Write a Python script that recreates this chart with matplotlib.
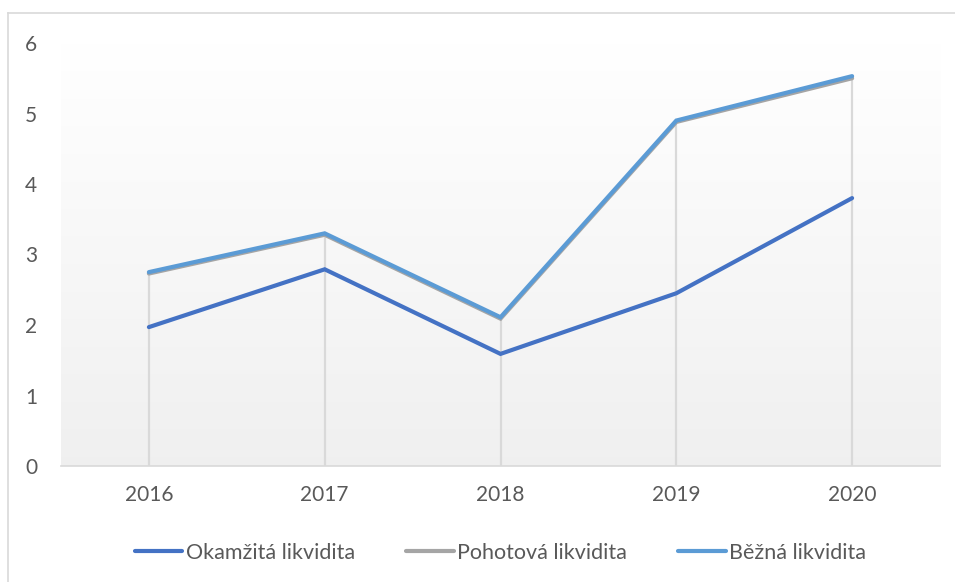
import numpy as np
import matplotlib
matplotlib.use("Agg")
import matplotlib.pyplot as plt
from matplotlib.lines import Line2D

# ---- data ----
years = ["2016", "2017", "2018", "2019", "2020"]
okamzita = [1.97, 2.79, 1.59, 2.45, 3.80]
pohotova = [2.73, 3.28, 2.09, 4.88, 5.50]
bezna = [2.75, 3.30, 2.11, 4.90, 5.53]
series_names = ["Okamžitá likvidita", "Pohotová likvidita", "Běžná likvidita"]
colors = ["#4472C4", "#A5A5A5", "#5B9BD5"]

plt.rcParams["font.family"] = ["Lato", "DejaVu Sans"]
txt = "#595959"
grid_c = "#D9D9D9"

W, H = 955, 582
fig = plt.figure(figsize=(W / 100, H / 100), dpi=100)

# outer chart border (cut off at right/bottom like the reference)
fig.add_artist(Line2D([8 / W, 8 / W], [0, 1 - 13 / H], transform=fig.transFigure,
                      color=grid_c, lw=1.2))
fig.add_artist(Line2D([8 / W, 1], [1 - 13 / H, 1 - 13 / H], transform=fig.transFigure,
                      color=grid_c, lw=1.2))

ax = fig.add_axes([61 / W, 1 - 466 / H, (940 - 61) / W, (466 - 43) / H])
ax.set_xlim(-0.5, 4.5)
ax.set_ylim(0, 6)

# gradient background: white at top -> light grey at bottom
grad = np.linspace(1.0, 0.0, 256).reshape(-1, 1)
top = np.array([1.0, 1.0, 1.0])
bot = np.array([0.94, 0.94, 0.94])
img = grad[..., None] * top + (1 - grad[..., None]) * bot
ax.imshow(img, extent=[-0.5, 4.5, 0, 6], aspect="auto", zorder=0, origin="upper")

x = np.arange(len(years))
# drop lines from axis to the highest series
tops = np.maximum.reduce([okamzita, pohotova, bezna])
ax.vlines(x, 0, tops, color=grid_c, lw=1.6, zorder=1)

for vals, name, c in zip([okamzita, pohotova, bezna], series_names, colors):
    ax.plot(x, vals, color=c, lw=3.0, label=name, zorder=3,
            solid_capstyle="round", solid_joinstyle="miter")

for s in ["top", "right", "left"]:
    ax.spines[s].set_visible(False)
ax.spines["bottom"].set_color(grid_c)
ax.spines["bottom"].set_linewidth(1.2)

ax.set_xticks(x)
ax.set_xticklabels(years)
ax.set_yticks(range(0, 7))
ax.tick_params(axis="both", length=0, colors=txt, labelsize=15)
ax.tick_params(axis="x", pad=14)
ax.tick_params(axis="y", pad=17)

ax.legend(loc="center", bbox_to_anchor=(0.5, -0.205), ncol=3, frameon=False,
          fontsize=15.5, labelcolor=txt, handlelength=2.2, handletextpad=0.15,
          columnspacing=2.4)

fig.savefig("out.png", dpi=100)
